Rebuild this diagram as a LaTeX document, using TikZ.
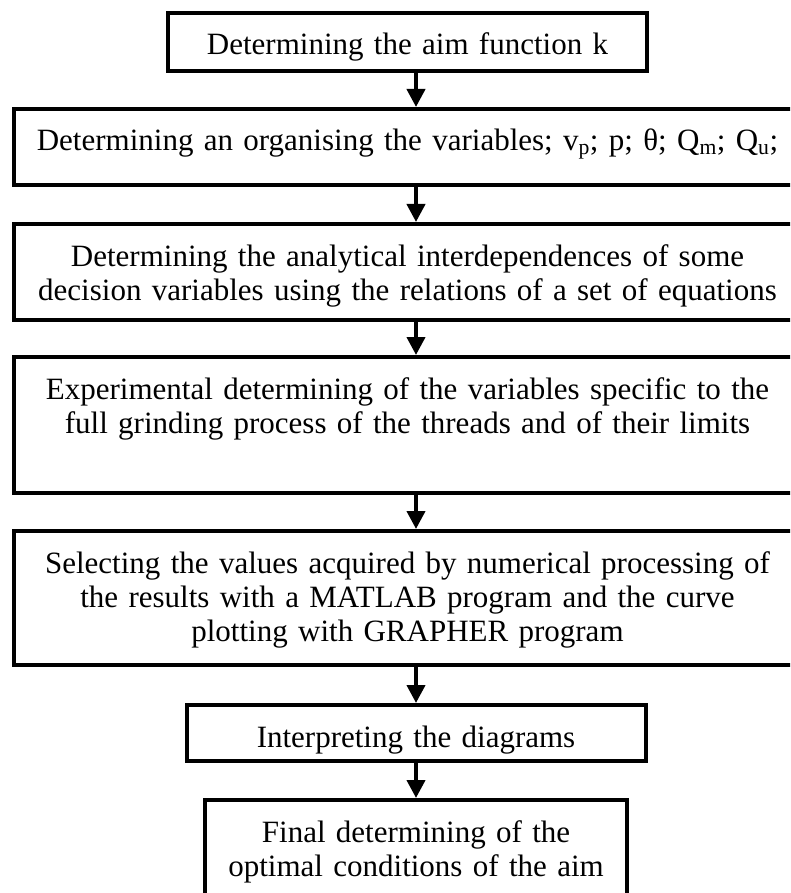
\documentclass[tikz,border=0pt]{standalone}
\usepackage{fontspec}
\setmainfont{Liberation Serif}
\usetikzlibrary{arrows.meta,positioning}

\begin{document}
\begin{tikzpicture}[x=1pt,y=1pt,>={Triangle[length=18pt,width=18pt]},semithick]
  \tikzstyle{box}=[draw,line width=4pt,inner sep=0pt,align=center,text height=42pt,font=\fontsize{31}{34}\selectfont]
  \tikzstyle{wide}=[box,text width=788pt]
  \tikzstyle{every edge}=[draw,->,line width=4pt]

  \useasboundingbox (0,0) rectangle (790,-893);
  \clip (0,0) rectangle (790,-893);
  \coordinate (ax) at (416,0);

  \node[box,text width=479pt,text depth=16pt,anchor=north] (b1) at (407.5,-11) {Determining the aim function k};
  \node[wide,text depth=34pt] (b2) [below=34pt of b1] {Determining an organising the variables; v\textsubscript{p}; p; θ; Q\textsubscript{m}; Q\textsubscript{u};};
  \node[wide,text depth=54pt] (b3) [below=35pt of b2] {Determining the analytical interdependences of some\\decision variables using the relations of a set of equations};
  \node[wide,text depth=94pt] (b4) [below=33pt of b3] {Experimental determining of the variables specific to the\\full grinding process of the threads and of their limits};
  \node[wide,text depth=92pt] (b5) [below=34pt of b4] {Selecting the values acquired by numerical processing of\\the results with a MATLAB program and the curve\\plotting with GRAPHER program};
  \node[box,text width=459pt,text depth=14pt] (b6) [below=36pt of b5,xshift=8.5pt] {Interpreting the diagrams};
  \node[box,text width=422pt,text depth=64pt] (b7) [below=35pt of b6] {Final determining of the\\optimal conditions of the aim};

  \path (b1.south -| ax) edge (b2.north -| ax);
  \path (b2.south -| ax) edge (b3.north -| ax);
  \path (b3.south -| ax) edge (b4.north -| ax);
  \path (b4.south -| ax) edge (b5.north -| ax);
  \path (b5.south -| ax) edge (b6.north -| ax);
  \path (b6.south -| ax) edge (b7.north -| ax);

\end{tikzpicture}
\end{document}
